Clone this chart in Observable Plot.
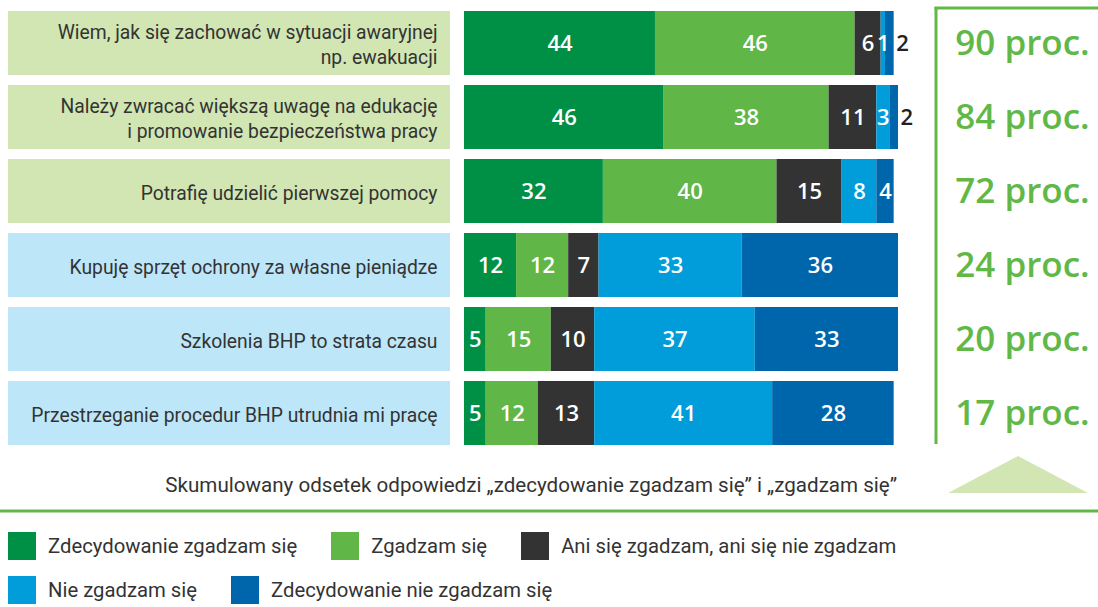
<!DOCTYPE html>
<html><head><meta charset="utf-8">
<script src="https://cdn.jsdelivr.net/npm/d3@7"></script>
<script src="https://cdn.jsdelivr.net/npm/@observablehq/plot@0.6"></script>
<style>
body{margin:0;background:#fff;}
#legend{display:flex;flex-wrap:wrap;width:1000px;margin-left:8px;margin-top:12px;font-family:Roboto,sans-serif;font-size:20.3px;color:#333;}
.item{display:flex;align-items:center;height:28px;margin-bottom:16px;margin-right:34px;white-space:nowrap;}
.sw{width:28px;height:28px;margin-right:12px;flex:none;}
</style>
</head><body>
<div id="chart"></div>
<div id="legend"></div>
<script>
// ---- data ----
const questions = [
  "Wiem, jak się zachować w sytuacji awaryjnej\nnp. ewakuacji",
  "Należy zwracać większą uwagę na edukację\ni promowanie bezpieczeństwa pracy",
  "Potrafię udzielić pierwszej pomocy",
  "Kupuję sprzęt ochrony za własne pieniądze",
  "Szkolenia BHP to strata czasu",
  "Przestrzeganie procedur BHP utrudnia mi pracę"
];
const questionGroup = ["pos", "pos", "pos", "neg", "neg", "neg"];
const series = [
  "Zdecydowanie zgadzam się",
  "Zgadzam się",
  "Ani się zgadzam, ani się nie zgadzam",
  "Nie zgadzam się",
  "Zdecydowanie nie zgadzam się"
];
const zdecydowanieZgadzam = [44, 46, 32, 12, 5, 5];
const zgadzam = [46, 38, 40, 12, 15, 12];
const aniAni = [6, 11, 15, 7, 10, 13];
const nieZgadzam = [1, 3, 8, 33, 37, 41];
const zdecydowanieNie = [2, 2, 4, 36, 33, 28];
const caption = "Skumulowany odsetek odpowiedzi „zdecydowanie zgadzam się” i „zgadzam się”";
const unit = "proc.";

// ---- styles ----
const colors = ["#009045", "#61b648", "#333333", "#009dda", "#0066ab"];
const boxColor = {pos: "#d1e6b2", neg: "#bde6f9"};
const accent = "#62b847";

// ---- table ----
const seriesValues = [zdecydowanieZgadzam, zgadzam, aniAni, nieZgadzam, zdecydowanieNie];
const data = [];
questions.forEach((q, i) => series.forEach((s, j) => data.push({q, series: s, value: seriesValues[j][i]})));
const totals = questions.map((q, i) => ({q, total: zdecydowanieZgadzam[i] + zgadzam[i]}));
const lastSeries = series[series.length - 1];
const outside = d => d.series === lastSeries && d.value < 3;

function labelBoxes(index, scales) {
  const y = scales.y;
  const bw = typeof y.bandwidth === "function" ? y.bandwidth() : scales.scales.y.bandwidth;
  const g = d3.create("svg:g");
  g.selectAll("rect").data(questions).join("rect")
    .attr("x", 8).attr("width", 442)
    .attr("y", d => y(d)).attr("height", bw)
    .attr("fill", (d, i) => boxColor[questionGroup[i]]);
  return g.node();
}

function decorations(index, scales, values, dims) {
  const g = d3.create("svg:g");
  const xr = dims.width - dims.marginRight; // 898
  const colX = xr + 38;
  g.append("line").attr("x1", colX).attr("x2", colX).attr("y1", 7).attr("y2", 444)
    .attr("stroke", accent).attr("stroke-width", 3);
  g.append("line").attr("x1", colX - 1.5).attr("x2", dims.width).attr("y1", 8).attr("y2", 8)
    .attr("stroke", accent).attr("stroke-width", 3);
  g.append("polygon").attr("points", `${colX + 12},493 ${colX + 82},456 ${colX + 152},493`)
    .attr("fill", "#d1e6b2");
  g.append("text").attr("x", 897).attr("y", 487).attr("text-anchor", "end")
    .attr("dominant-baseline", "middle")
    .attr("font-family", "Roboto").attr("font-size", 20.6).attr("fill", "#333").text(caption);
  g.append("line").attr("x1", 0).attr("x2", dims.width).attr("y1", 511).attr("y2", 511)
    .attr("stroke", accent).attr("stroke-width", 3);
  return g.node();
}

const chart = Plot.plot({
  width: 1098,
  height: 520,
  marginLeft: 464,
  marginRight: 200,
  marginTop: 9,
  marginBottom: 73,
  x: {domain: [0, 100], range: [464, 898], axis: null},
  y: {domain: questions, range: [9, 447], paddingInner: 0.135, paddingOuter: 0, axis: null},
  color: {domain: series, range: colors},
  marks: [
    labelBoxes,
    Plot.text(questions, {
      y: d => d, text: d => d, frameAnchor: "left", textAnchor: "end", dx: -27,
      lineHeight: 1.3, fontFamily: "Roboto", fontSize: 19.3, fill: "#333"
    }),
    Plot.barX(data, {x: "value", y: "q", fill: "series", order: series}),
    Plot.text(data, Plot.stackX({
      x: "value", y: "q", z: "series", order: series,
      text: d => outside(d) ? "" : String(d.value),
      fill: "white", fontFamily: "Open Sans", fontWeight: 600, fontSize: 22
    })),
    Plot.text(data, Plot.stackX2({
      x: "value", y: "q", z: "series", order: series,
      text: d => outside(d) ? String(d.value) : "",
      textAnchor: "start", dx: 2,
      fill: "#222", fontFamily: "Open Sans", fontWeight: 600, fontSize: 22
    })),
    Plot.text(totals, {
      y: "q", text: d => `${d.total} ${unit}`, frameAnchor: "right", textAnchor: "middle", dx: 124,
      fill: accent, fontFamily: "Open Sans", fontWeight: 600, fontSize: 35
    }),
    decorations
  ]
});
document.getElementById("chart").appendChild(chart);

const legend = d3.select("#legend");
series.forEach((s, i) => {
  const it = legend.append("div").attr("class", "item");
  it.append("div").attr("class", "sw").style("background", colors[i]);
  it.append("span").text(s);
});
</script>
</body></html>
